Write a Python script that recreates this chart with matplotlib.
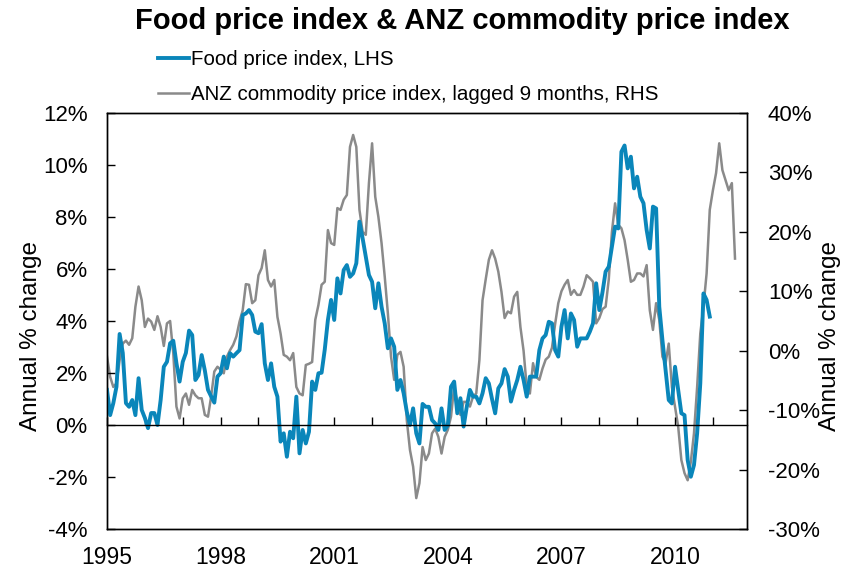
import matplotlib
matplotlib.use('Agg')
import matplotlib.pyplot as plt
import numpy as np

plt.rcParams['font.family'] = ['Liberation Sans', 'DejaVu Sans']

# monthly data, first point Jan 1995
start_year = 1995

# Food price index, annual % change (LHS)
food = [1.35, 0.38, 0.84, 1.47, 3.5, 2.77, 0.84, 0.7, 0.96, 0.38, 1.8, 0.58,
        0.27, -0.12, 0.46, 0.46, 0.0, 0.96, 2.24, 2.43, 3.14, 3.24, 2.38, 1.67,
        2.43, 2.77, 3.63, 3.46, 1.73, 1.92, 2.69, 2.1, 1.35, 1.1, 0.86, 1.86,
        1.99, 2.63, 2.18, 2.76, 2.63, 2.76, 2.88, 4.23, 4.29, 4.42, 4.23, 3.59,
        3.53, 3.88, 2.37, 1.73, 2.37, 1.47, 1.09, -0.64, -0.32, -1.22, -0.26, -0.51,
        1.09, -1.09, -0.19, -0.71, -0.26, 1.67, 1.35, 1.99, 2.01, 2.9, 4.04, 4.81,
        4.04, 5.64, 5.06, 5.96, 6.15, 5.7, 5.83, 6.22, 7.82, 7.18, 6.47, 5.77,
        5.51, 4.49, 5.45, 4.55, 3.91, 2.95, 3.33, 3.01, 1.35, 1.73, 1.22, 0.51,
        0.0, 0.64, -0.32, -0.71, 0.81, 0.7, 0.7, 0.19, 0.06, -0.19, 0.64, -0.19,
        0.0, 1.47, 1.67, 0.45, 1.03, -0.06, 0.7, 1.35, 1.09, 1.09, 0.83, 1.22,
        1.8, 1.6, 1.0, 0.45, 1.41, 1.6, 2.15, 1.86, 0.9, 1.35, 1.73, 2.24,
        1.73, 1.09, 1.86, 1.86, 1.86, 2.88, 3.33, 3.46, 3.97, 3.91, 2.88, 2.63,
        3.78, 4.42, 3.33, 4.29, 4.04, 3.01, 3.33, 3.33, 3.33, 3.59, 3.91, 5.45,
        4.42, 5.1, 5.9, 6.09, 6.86, 7.63, 7.56, 10.51, 10.75, 9.87, 10.32, 9.1,
        9.55, 8.78, 8.53, 7.5, 6.79, 8.4, 8.33, 4.55, 3.27, 2.12, 0.96, 0.83,
        2.24, 1.35, 0.45, 0.38, -1.35, -1.99, -1.54, -0.32, 1.6, 5.06, 4.81, 4.17]

# ANZ commodity price index lagged 9 months, annual % change (RHS)
anz = [-1.0, -4.4, -6.1, -5.5, -1.6, 1.2, 1.7, 1.0, 2.1, 7.4, 10.8, 8.5,
       4.0, 5.4, 4.9, 3.5, 5.8, 4.0, 0.8, 4.6, 5.0, -0.4, -9.4, -11.4,
       -8.0, -7.2, -9.1, -6.6, -7.5, -8.0, -8.0, -10.8, -11.1, -7.7, -3.5, -2.7,
       -3.2, -3.8, -1.0, 0.1, 1.0, 2.4, 4.9, 6.8, 11.2, 11.1, 8.0, 8.5,
       12.7, 13.9, 16.9, 11.9, 10.8, 11.9, 5.7, 2.9, -0.7, -1.0, -1.6, -0.4,
       -6.1, -7.2, -7.5, -2.4, -2.2, -1.9, 5.2, 7.7, 11.1, 11.6, 20.3, 18.1,
       17.8, 24.0, 23.7, 25.4, 26.2, 34.3, 36.3, 34.3, 23.7, 20.0, 19.5, 28.2,
       34.9, 25.9, 22.5, 18.1, 12.5, 6.3, -1.0, -4.9, -0.7, -0.2, -2.7, -11.7,
       -16.7, -19.5, -24.8, -22.3, -16.2, -18.4, -17.3, -13.9, -13.1, -14.5, -17.3, -14.5,
       -13.3, -11.1, -6.1, -8.6, -10.8, -8.6, -8.6, -9.4, -7.7, -7.2, -1.6, 8.5,
       12.0, 15.3, 16.9, 15.5, 13.3, 9.9, 5.5, 6.6, 6.3, 9.1, 9.9, 4.0,
       0.0, -6.1, -7.2, -2.1, -4.4, -4.9, -3.0, -1.5, -1.0, 0.5, 4.5, 8.0,
       10.0, 11.1, 11.9, 9.4, 10.2, 9.4, 9.4, 10.8, 12.7, 12.2, 11.6, 4.6,
       5.5, 7.0, 7.4, 12.0, 20.0, 24.8, 21.2, 20.6, 18.6, 15.3, 11.6, 11.9,
       13.0, 13.0, 12.5, 14.4, 6.8, 3.5, 8.0, 5.2, -1.0, -2.1, 1.2, -6.1,
       -9.4, -12.8, -18.4, -20.6, -21.8, -18.7, -13.9, -6.1, 2.9, 7.4, 13.0, 23.7,
       27.0, 29.9, 34.9, 30.4, 28.7, 27.0, 28.2, 15.5]

year_labels = [1995, 1998, 2001, 2004, 2007, 2010]
left_ticks = [-4, -2, 0, 2, 4, 6, 8, 10, 12]
right_ticks = [-30, -20, -10, 0, 10, 20, 30, 40]

blue = '#0A86BA'
grey = '#8A8A8A'

t_food = start_year + np.arange(len(food)) / 12.0
t_anz = start_year + np.arange(len(anz)) / 12.0

fig = plt.figure(figsize=(8.55, 5.69), dpi=100)
ax = fig.add_axes([107/855, 1-529/569, 640/855, 416/569])
ax2 = ax.twinx()

l2, = ax2.plot(t_anz, anz, color=grey, lw=1.8,
               label='ANZ commodity price index, lagged 9 months, RHS')
l1, = ax.plot(t_food, food, color=blue, lw=2.8, label='Food price index, LHS')
ax.set_zorder(ax2.get_zorder() + 1)
ax.patch.set_visible(False)

ax.set_xlim(1995, 2011.9)
ax.set_ylim(-4, 12)
ax2.set_ylim(-30, 40)

ax.set_yticks(left_ticks)
ax.set_yticklabels([f'{v}%' for v in left_ticks])
ax2.set_yticks(right_ticks)
ax2.set_yticklabels([f'{v}%' for v in right_ticks])

# axis crossing at 0 with yearly ticks
ax.spines['bottom'].set_position(('data', 0))
ax.set_xticks(np.arange(1995, 2012))
ax.tick_params(axis='x', direction='in', length=6, width=1, labelbottom=False)
sec = ax.secondary_xaxis('bottom')
sec.set_xticks(year_labels)
sec.set_xticklabels([str(y) for y in year_labels])
sec.tick_params(length=0, pad=12, labelsize=16.5)

ax.tick_params(axis='y', direction='in', length=6, width=1, pad=14, labelsize=16)
ax2.tick_params(axis='y', direction='in', length=6, width=1, pad=15, labelsize=16)

for a in (ax, ax2):
    for s in a.spines.values():
        s.set_linewidth(1.0)
        s.set_color('black')
sec.spines['bottom'].set_linewidth(1.0)

fig.text(31/855, 1-336/569, 'Annual % change', rotation=90, ha='center', va='center', fontsize=17.5)
fig.text(830/855, 1-336/569, 'Annual % change', rotation=90, ha='center', va='center', fontsize=17.5)

fig.text(462/855, 1-21/569, 'Food price index & ANZ commodity price index',
         ha='center', va='center', fontsize=21, fontweight='bold')

fig.legend(handles=[l1, l2], loc='upper left', bbox_to_anchor=(158/855, 1-50/569),
           frameon=False, fontsize=14.8, handlelength=1.5, handletextpad=0.1,
           borderpad=0, borderaxespad=0, labelspacing=0.8)

fig.savefig('out.png', dpi=100)
